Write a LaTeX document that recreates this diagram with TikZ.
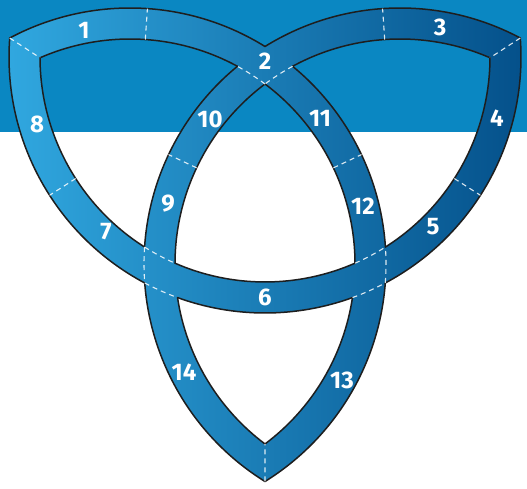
\documentclass[tikz,border=0pt]{standalone}
\usepackage{fontspec}
\setsansfont{Fira Sans}
\definecolor{skyblue}{HTML}{0A87C2}
\definecolor{knotlight}{HTML}{31A9E1}
\definecolor{knotdark}{HTML}{04508A}
\definecolor{rimgray}{HTML}{1E1E1E}
% arc of the ring around #2 with radius #3, from angle #4 to #5
\newcommand{\ringarc}[5][]{%
  \draw[#1] ([shift={(#4:#3)}]#2) arc[start angle=#4, end angle=#5, radius=#3];}

\begin{document}
\begin{tikzpicture}[x=1pt, y=1pt,
  rim/.style={draw=rimgray, line width=1.5pt, line cap=round},
  seam/.style={draw=white, opacity=0.85, line width=1.1pt, dash pattern=on 5pt off 4pt},
  num/.style={text=white, inner sep=0pt, font=\sffamily\bfseries\fontsize{24}{24}\selectfont},
]
\useasboundingbox (0,0) rectangle (527,489);
\fill[white] (0,0) rectangle (527,489);
\fill[skyblue] (0,357) rectangle (527,489);

\def\Ro{256}
\def\Ri{225}
\coordinate (cA) at (130,225);
\coordinate (cB) at (400,225);
\coordinate (cC) at (265,432);

% knot body, one gradient over the three bands
\shade[left color=knotlight, right color=knotdark]
  ([shift={(-58.17:\Ro)}]cA) arc[start angle=-58.17, end angle=118.03, radius=\Ro]
    -- ([shift={(113.58:\Ri)}]cA) arc[start angle=113.58, end angle=-53.13, radius=\Ri] -- cycle
  ([shift={(61.97:\Ro)}]cB) arc[start angle=61.97, end angle=238.17, radius=\Ro]
    -- ([shift={(233.13:\Ri)}]cB) arc[start angle=233.13, end angle=66.42, radius=\Ri] -- cycle
  ([shift={(175.75:\Ro)}]cC) arc[start angle=175.75, end angle=364.25, radius=\Ro]
    -- ([shift={(359.8:\Ri)}]cC) arc[start angle=359.8, end angle=180.2, radius=\Ri] -- cycle;

% black rims
\ringarc[rim]{cA}{\Ro}{58.17}{118.03}
\ringarc[rim]{cA}{\Ro}{3.80}{50.56}
\ringarc[rim]{cA}{\Ro}{-58.17}{-4.25}
\ringarc[rim]{cA}{\Ri}{61.48}{113.58}
\ringarc[rim]{cA}{\Ri}{0.2}{53.13}
\ringarc[rim]{cA}{\Ri}{-53.13}{-8.59}
\ringarc[rim]{cB}{\Ro}{61.97}{121.83}
\ringarc[rim]{cB}{\Ro}{129.44}{176.20}
\ringarc[rim]{cB}{\Ro}{184.25}{238.17}
\ringarc[rim]{cB}{\Ri}{66.42}{118.52}
\ringarc[rim]{cB}{\Ri}{126.87}{179.8}
\ringarc[rim]{cB}{\Ri}{188.59}{233.13}
\ringarc[rim]{cC}{\Ro}{175.75}{241.97}
\ringarc[rim]{cC}{\Ro}{250.02}{289.98}
\ringarc[rim]{cC}{\Ro}{298.03}{364.25}
\ringarc[rim]{cC}{\Ri}{180.2}{237.63}
\ringarc[rim]{cC}{\Ri}{246.42}{293.58}
\ringarc[rim]{cC}{\Ri}{302.37}{359.8}

% dashed seams inside the crossings
\ringarc[seam]{cA}{\Ro}{-4.25}{3.80}
\ringarc[seam]{cA}{\Ri}{53.13}{61.48}
\ringarc[seam]{cB}{\Ro}{176.20}{184.25}
\ringarc[seam]{cB}{\Ri}{118.52}{126.87}
\ringarc[seam]{cC}{\Ro}{241.97}{250.02}
\ringarc[seam]{cC}{\Ro}{289.98}{298.03}
\ringarc[seam]{cC}{\Ri}{237.63}{246.42}
\ringarc[seam]{cC}{\Ri}{293.58}{302.37}

% radial seams
\draw[seam] ([shift={(86.1:\Ri)}]cA) -- ([shift={(86.1:\Ro)}]cA);
\draw[seam] ([shift={(25.3:\Ri)}]cA) -- ([shift={(25.3:\Ro)}]cA);
\draw[seam] ([shift={(93.9:\Ri)}]cB) -- ([shift={(93.9:\Ro)}]cB);
\draw[seam] ([shift={(154.7:\Ri)}]cB) -- ([shift={(154.7:\Ro)}]cB);
\draw[seam] ([shift={(212.7:\Ri)}]cC) -- ([shift={(212.7:\Ro)}]cC);
\draw[seam] ([shift={(327.3:\Ri)}]cC) -- ([shift={(327.3:\Ro)}]cC);

% seams at the three tips
\draw[seam] ([shift={(175.75:\Ro)}]cC) -- ([shift={(180.2:\Ri)}]cC);
\draw[seam] ([shift={(4.25:\Ro)}]cC) -- ([shift={(-0.2:\Ri)}]cC);
\draw[seam] ([shift={(-58.17:\Ro)}]cA) -- ([shift={(-53.13:\Ri)}]cA);

% segment numbers
\node[num] (n1)  at (84,459)  {1};
\node[num] (n2)  at (265,428) {2};
\node[num] (n3)  at (440,462) {3};
\node[num] (n4)  at (497,371) {4};
\node[num] (n5)  at (433,262) {5};
\node[num] (n6)  at (265,192) {6};
\node[num] (n7)  at (106,257) {7};
\node[num] (n8)  at (37,365)  {8};
\node[num] (n9)  at (168,285) {9};
\node[num] (n10) at (210,370) {10};
\node[num] (n11) at (320,371) {11};
\node[num] (n12) at (363,283) {12};
\node[num] (n13) at (342,109) {13};
\node[num] (n14) at (184,117) {14};
\end{tikzpicture}
\end{document}
